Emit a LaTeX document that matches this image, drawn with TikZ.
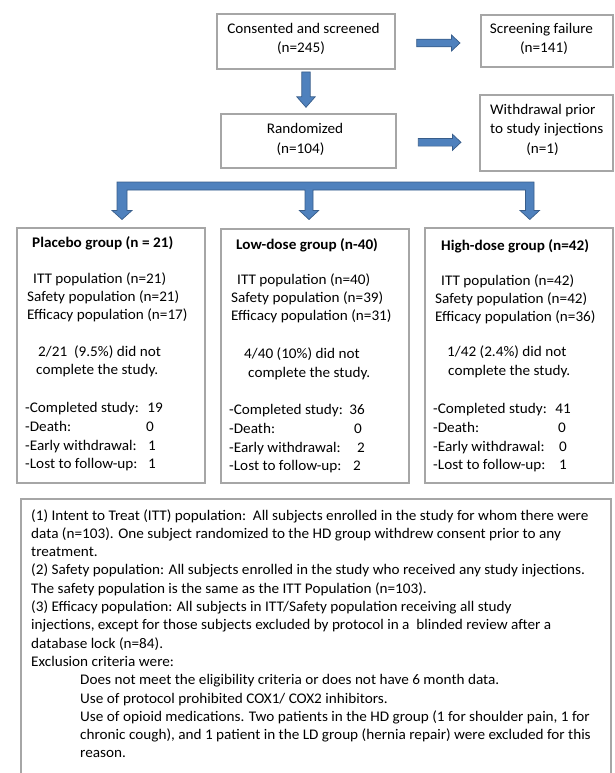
\documentclass[tikz,border=0pt]{standalone}
\usepackage{fontspec}
\setmainfont{Carlito}[FakeStretch=1.035]
\definecolor{boxgray}{RGB}{166,166,166}
\definecolor{arrfill}{RGB}{79,129,189}
\definecolor{arredge}{RGB}{56,93,138}
\tikzset{
  box/.style={draw=boxgray, line width=1.6pt, anchor=north west, inner sep=0pt},
  barrow/.style={fill=arrfill, draw=arredge, line width=0.7pt, line join=miter},
  txt/.style={inner sep=0pt, anchor=base west, font=\fontsize{14.7}{18.3}\selectfont},
  ctxt/.style={txt, anchor=base},
  ttl/.style={txt, font=\fontsize{14.7}{18.3}\selectfont\bfseries},
}
\newcommand\rblock[3]{%
  \draw[barrow] (#1,#3-3.8) -- (#2-8.5,#3-3.8) -- (#2-8.5,#3-8) -- (#2,#3)
    -- (#2-8.5,#3+8) -- (#2-8.5,#3+3.8) -- (#1,#3+3.8) -- cycle;}
\newcommand\dblock[3]{%
  \draw[barrow] (#1-4.2,#2) -- (#1+4.2,#2) -- (#1+4.2,#3-10.5) -- (#1+9.2,#3-10.5)
    -- (#1,#3) -- (#1-9.2,#3-10.5) -- (#1-4.2,#3-10.5) -- cycle;}
\begin{document}
\begin{tikzpicture}[x=1pt,y=-1pt]
\useasboundingbox (0,0) rectangle (614,773);
% ---- boxes
\node[box, minimum width=178pt, minimum height=55pt] (consent) at (216,13) {};
\node[box, minimum width=132pt, minimum height=52pt] (fail) at (480,14) {};
\node[box, minimum width=175pt, minimum height=54pt] (rand) at (220,113) {};
\node[box, minimum width=133pt, minimum height=76pt] (withd) at (479,94) {};
\node[box, minimum width=188pt, minimum height=255pt] (plac) at (16,227) {};
\node[box, minimum width=188pt, minimum height=254pt] (low) at (220,228) {};
\node[box, minimum width=188pt, minimum height=255pt] (high) at (424,227) {};
\draw[draw=boxgray, line width=1.6pt] (21,774) -- (21,499) -- (611,499) -- (611,774);
% ---- arrows
\rblock{416.7}{460}{43}
\rblock{418.3}{461}{142.3}
\dblock{306}{72}{107.3}
\draw[barrow] (117,182) -- (534,182) -- (534,210.5) -- (539.5,210.5) -- (529.8,219.5)
  -- (520,210.5) -- (525.5,210.5) -- (525.5,190) -- (313,190) -- (313,210.5)
  -- (318.7,210.5) -- (309,219.5) -- (299.3,210.5) -- (305,210.5) -- (305,190)
  -- (127,190) -- (127,210.5) -- (132,210.5) -- (122,219.5) -- (112,210.5)
  -- (117,210.5) -- cycle;
% ---- top texts
\node[ctxt] (c1) at (303.5,33.5) {Consented and screened};
\node[ctxt] (c2) at (301,52.5) {(n=245)};
\node[ctxt] (f1) at (541.5,34) {Screening failure};
\node[ctxt] (f2) at (544,52.5) {(n=141)};
\node[ctxt] (r1) at (305,133) {Randomized};
\node[ctxt] (r2) at (300.5,153) {(n=104)};
\node[txt] (w1) at (490,114.5) {Withdrawal prior};
\node[txt] (w2) at (490,133) {to study injections};
\node[ctxt] (w3) at (542.5,153) {(n=1)};
% ---- placebo group (L=16)
\node[ttl] (p0) at (32,247.5) {Placebo group (n = 21)};
\node[txt] (p1) at (33,283) {ITT population (n=21)};
\node[txt] (p2) at (27,301.5) {Safety population (n=21)};
\node[txt] (p3) at (27,319) {Efficacy population (n=17)};
\node[txt] (p4) at (38,356) {2/21\ \ (9.5\%) did not};
\node[txt] (p5) at (36,374) {complete the study.};
\node[txt] (p6) at (25,412) {-Completed study:};
\node[txt] (p7) at (25,431) {-Death:};
\node[txt] (p8) at (25,450) {-Early withdrawal:};
\node[txt] (p9) at (25,468) {-Lost to follow-up:};
\node[ctxt] (pn6) at (155,412) {19};
\node[ctxt] (pn7) at (150,431) {0};
\node[ctxt] (pn8) at (152,450) {1};
\node[ctxt] (pn9) at (152,468) {1};
% ---- low-dose group (L=220)
\node[ttl] (l0) at (236,249) {Low-dose group (n-40)};
\node[txt] (l1) at (237,284.5) {ITT population (n=40)};
\node[txt] (l2) at (231,302.5) {Safety population (n=39)};
\node[txt] (l3) at (231,320.5) {Efficacy population (n=31)};
\node[txt] (l4) at (244,358) {4/40 (10\%) did not};
\node[txt] (l5) at (248,377) {complete the study.};
\node[txt] (l6) at (229,414) {-Completed study:};
\node[txt] (l7) at (229,433) {-Death:};
\node[txt] (l8) at (229,452) {-Early withdrawal:};
\node[txt] (l9) at (229,470) {-Lost to follow-up:};
\node[ctxt] (ln6) at (357,414) {36};
\node[ctxt] (ln7) at (358,433) {0};
\node[ctxt] (ln8) at (361,452) {2};
\node[ctxt] (ln9) at (357,470) {2};
% ---- high-dose group (L=424)
\node[ttl] (h0) at (441,250) {High-dose group (n=42)};
\node[txt] (h1) at (441,285) {ITT population (n=42)};
\node[txt] (h2) at (435,303) {Safety population (n=42)};
\node[txt] (h3) at (435,321) {Efficacy population (n=36)};
\node[txt] (h4) at (447,356.5) {1/42 (2.4\%) did not};
\node[txt] (h5) at (448,375) {complete the study.};
\node[txt] (h6) at (433,413) {-Completed study:};
\node[txt] (h7) at (433,432) {-Death:};
\node[txt] (h8) at (433,451) {-Early withdrawal:};
\node[txt] (h9) at (433,469) {-Lost to follow-up:};
\node[ctxt] (hn6) at (563,413) {41};
\node[ctxt] (hn7) at (562,432) {0};
\node[ctxt] (hn8) at (563,451) {0};
\node[ctxt] (hn9) at (563,469) {1};
% ---- notes
\foreach \t [count=\i from 0] in {%
  {(1) Intent to Treat (ITT) population:\ \ All subjects enrolled in the study for whom there were},
  {data (n=103). One subject randomized to the HD group withdrew consent prior to any},
  {treatment.},
  {(2) Safety population: All subjects enrolled in the study who received any study injections.},
  {The safety population is the same as the ITT Population (n=103).},
  {(3) Efficacy population: All subjects in ITT/Safety population receiving all study},
  {injections, except for those subjects excluded by protocol in a\ \ blinded review after a},
  {database lock (n=84).},
  {Exclusion criteria were:}}
  \node[txt] (n\i) at (31,520+18.3*\i) {\t};
\foreach \t [count=\i from 9] in {%
  {Does not meet the eligibility criteria or does not have 6 month data.},
  {Use of protocol prohibited COX1/ COX2 inhibitors.},
  {Use of opioid medications. Two patients in the HD group (1 for shoulder pain, 1 for},
  {chronic cough), and 1 patient in the LD group (hernia repair) were excluded for this},
  {reason.}}
  \node[txt] (n\i) at (80,520+18.3*\i) {\t};
\end{tikzpicture}
\end{document}
